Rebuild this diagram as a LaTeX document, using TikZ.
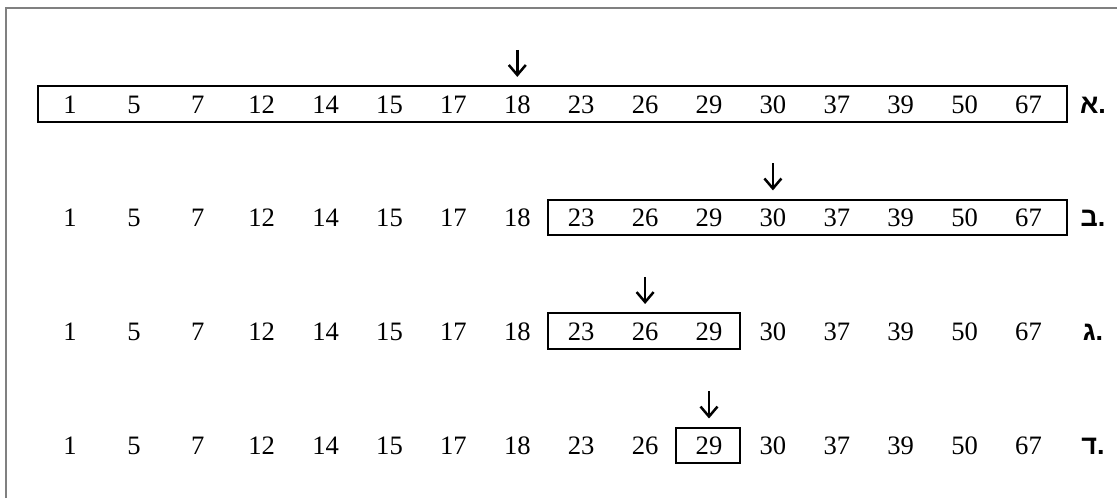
\documentclass[tikz,border=0pt]{standalone}
\usepackage{fontspec}
\setmainfont{Liberation Serif}
\newfontfamily\hebfont[Script=Hebrew]{Liberation Sans}
\TeXXeTstate=1
\usetikzlibrary{arrows.meta}
\begin{document}
\begin{tikzpicture}
[x=0.5pt,y=-0.5pt,
 numdecorate/.style={anchor=base,inner sep=0pt,font=\fontsize{13.3}{16}\selectfont},
 labeldecorate/.style={anchor=base,inner sep=0pt,font=\hebfont\bfseries\fontsize{13.5}{16}\selectfont},
 boxdecorate/.style={draw,line width=1.25pt},
 ptrdecorate/.style={-{Straight Barb[length=5pt,width=8.5pt]},line width=1.25pt},
 framedecorate/.style={draw=gray,line width=1.2pt}]
\useasboundingbox (0,0) rectangle (1117,498);
%% frame
\draw[framedecorate] (6,498) |- (1117,8);
%% rows of numbers with their labels
\foreach \row/\y/\lab in {1/113/א, 2/226.5/ב, 3/340/ג, 4/454.5/ד} {
  \foreach \v [count=\i from 0] in {1,5,7,12,14,15,17,18,23,26,29,30,37,39,50,67} {
    \node (r\row n\i) at ({70+63.9*\i},\y) [numdecorate] {\v};
  }
  \node (lab\row) at (1093,\y) [labeldecorate] {.\lab};
}
%% search ranges
\foreach \xa/\ya/\xb/\yb in {38/86/1067/122, 548/200/1067/235, 548/313/740/349, 676/428/740/463} {
  \draw[boxdecorate] (\xa,\ya) rectangle (\xb,\yb);
}
%% middle pointers
\foreach \row/\p in {1/7, 2/11, 3/9, 4/10} {
  \draw[ptrdecorate] ([yshift=22.5pt]r\row n\p.north) -- ([yshift=9pt]r\row n\p.north);
}
\end{tikzpicture}
\end{document}
